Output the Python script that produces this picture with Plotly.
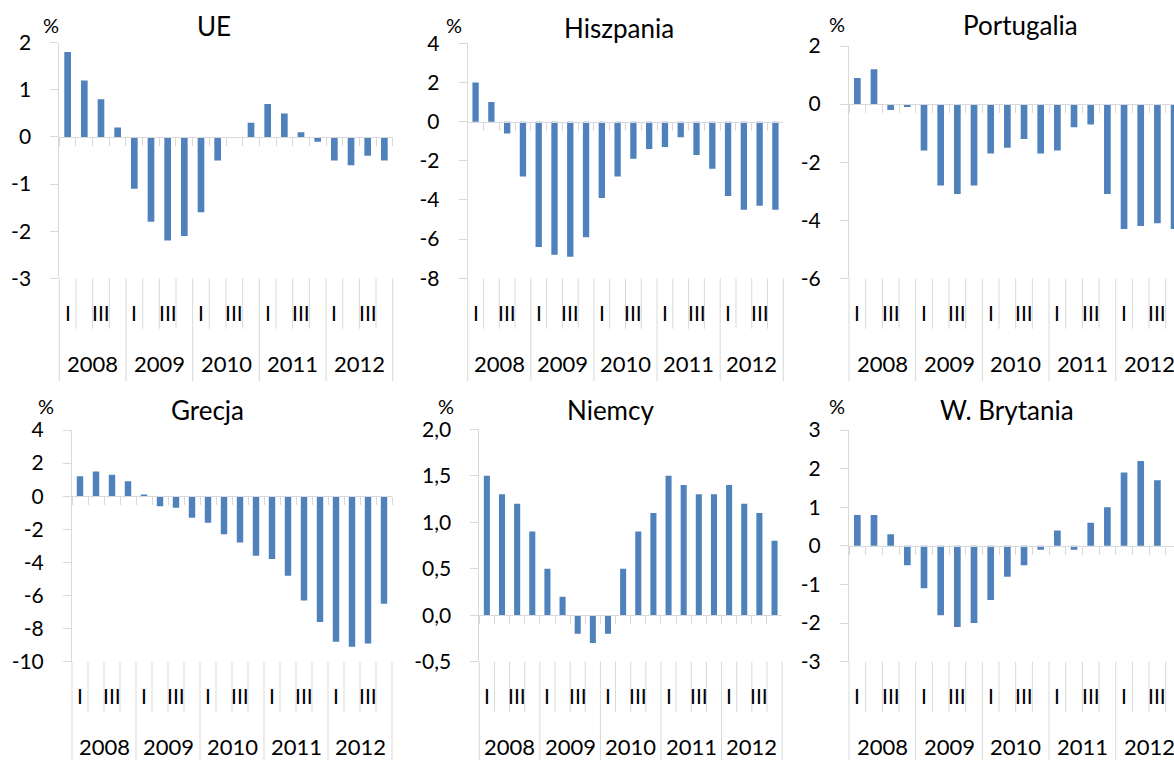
import plotly.graph_objects as go

# ---------------- data ----------------
years = ["2008", "2009", "2010", "2011", "2012"]
quarters = ["I", "II", "III", "IV"]
quarter_label_step = 2          # Excel skips every second quarter label
categories = [f"{y} {q}" for y in years for q in quarters]

ue = [1.8, 1.2, 0.8, 0.2, -1.1, -1.8, -2.2, -2.1, -1.6, -0.5,
      0.0, 0.3, 0.7, 0.5, 0.1, -0.1, -0.5, -0.6, -0.4, -0.5]
hiszpania = [2.0, 1.0, -0.6, -2.8, -6.4, -6.8, -6.9, -5.9, -3.9, -2.8,
             -1.9, -1.4, -1.3, -0.8, -1.7, -2.4, -3.8, -4.5, -4.3, -4.5]
portugalia = [0.9, 1.2, -0.2, -0.1, -1.6, -2.8, -3.1, -2.8, -1.7, -1.5,
              -1.2, -1.7, -1.6, -0.8, -0.7, -3.1, -4.3, -4.2, -4.1, -4.3]
grecja = [1.2, 1.5, 1.3, 0.9, 0.1, -0.6, -0.7, -1.3, -1.6, -2.3,
          -2.8, -3.6, -3.8, -4.8, -6.3, -7.6, -8.8, -9.1, -8.9, -6.5]
niemcy = [1.5, 1.3, 1.2, 0.9, 0.5, 0.2, -0.2, -0.3, -0.2, 0.5,
          0.9, 1.1, 1.5, 1.4, 1.3, 1.3, 1.4, 1.2, 1.1, 0.8]
w_brytania = [0.8, 0.8, 0.3, -0.5, -1.1, -1.8, -2.1, -2.0, -1.4, -0.8,
              -0.5, -0.1, 0.4, -0.1, 0.6, 1.0, 1.9, 2.2, 1.7, None]

titles = ["UE", "Hiszpania", "Portugalia", "Grecja", "Niemcy", "W. Brytania"]
series = [ue, hiszpania, portugalia, grecja, niemcy, w_brytania]
y_ticks = [
    [2, 1, 0, -1, -2, -3],
    [4, 2, 0, -2, -4, -6, -8],
    [2, 0, -2, -4, -6],
    [4, 2, 0, -2, -4, -6, -8, -10],
    [2.0, 1.5, 1.0, 0.5, 0.0, -0.5],
    [3, 2, 1, 0, -1, -2, -3],
]
decimal_ticks = [False, False, False, False, True, False]
unit = "%"

# ---------------- layout (pixels) ----------------
W, H = 1174, 760
FONT = "Lato"
BAR = "#4F81BD"
AX = "#D9D9D9"

# left px, px per quarter, top px, bottom px, title centre, % centre, label-area bottom
panel_geom = [
    (59.3, 16.67, 42.7, 278.3, (214, 26), (51, 25), 381),
    (467.7, 15.78, 43.3, 278.3, (619, 28), (454, 25), 381),
    (849.0, 16.67, 46.0, 278.3, (1020, 25), (837, 24), 381),
    (72.0, 16.0, 430.0, 661.7, (207, 410), (46, 406), 760),
    (479.3, 15.14, 429.3, 661.7, (610, 410), (446, 406), 760),
    (849.0, 16.67, 430.0, 661.7, (1007, 410), (837, 406), 760),
]


def pxx(x):
    return x / W


def pxy(y):
    return 1 - y / H


def fmt(v, dec):
    if dec:
        return f"{v:.1f}".replace(".", ",")
    return f"{v:g}"


fig = go.Figure()
shapes = []
annotations = []
layout_axes = {}

for i, (vals, title, ticks, dec, geom) in enumerate(
        zip(series, titles, y_ticks, decimal_ticks, panel_geom), start=1):
    left, cat, top, bottom, tpos, ppos, lab_bottom = geom
    sfx = "" if i == 1 else str(i)
    xref, yref = "x" + sfx, "y" + sfx
    right = min(left + cat * len(categories), W)
    xend = -0.5 + (right - left) / cat
    ymin, ymax = min(ticks), max(ticks)
    zero_px = top + (ymax - 0) / (ymax - ymin) * (bottom - top)

    fig.add_trace(go.Bar(
        x=categories, y=vals, xaxis=xref, yaxis=yref,
        marker=dict(color=BAR, line=dict(width=0)),
        showlegend=False, hoverinfo="skip",
    ))

    layout_axes["xaxis" + sfx] = dict(
        type="category", categoryorder="array", categoryarray=categories,
        domain=[pxx(left), pxx(right)], range=[-0.5, xend],
        anchor="free", position=pxy(zero_px), automargin=False,
        showline=True, linecolor=AX, linewidth=1,
        ticks="outside", tickson="boundaries", ticklen=8,
        tickcolor=AX, tickwidth=1, showticklabels=False,
        showgrid=False, zeroline=False, fixedrange=True,
    )
    layout_axes["yaxis" + sfx] = dict(
        domain=[pxy(bottom), pxy(top)], range=[ymin, ymax], anchor=xref,
        automargin=False,
        tickmode="array", tickvals=ticks, ticktext=[fmt(v, dec) for v in ticks],
        ticks="outside", ticklen=8, tickcolor=AX, tickwidth=1,
        showline=True, linecolor=AX, linewidth=1,
        showgrid=False, zeroline=False, fixedrange=True,
        tickfont=dict(family=FONT, size=21, color="black"),
        ticklabelstandoff=15,
    )

    # category-axis label area: quarter separators and year dividers
    n = len(categories)
    for b in range(n + 1):
        pos = b - 0.5
        if pos > xend + 1e-6:
            continue
        is_year = (b % len(quarters) == 0)
        y_end = lab_bottom if is_year else bottom + 50.5
        if b == 0 or b == n:
            sx, sref = (0 if b == 0 else 1), xref + " domain"
        else:
            sx, sref = pos, xref
        shapes.append(dict(
            type="line", xref=sref, yref="paper",
            x0=sx, x1=sx, y0=pxy(bottom), y1=pxy(y_end),
            line=dict(color=AX, width=1), layer="below",
        ))

    # quarter and year labels
    for k, yr in enumerate(years):
        for j in range(0, len(quarters), quarter_label_step):
            annotations.append(dict(
                xref=xref, yref="paper", x=k * len(quarters) + j,
                y=pxy(bottom + 34), text=quarters[j], showarrow=False,
                xanchor="center", yanchor="middle",
                font=dict(family=FONT, size=21, color="black"),
            ))
        annotations.append(dict(
            xref=xref, yref="paper", x=k * len(quarters) + (len(quarters) - 1) / 2,
            y=pxy(bottom + 85), text=yr, showarrow=False,
            xanchor="center", yanchor="middle",
            font=dict(family=FONT, size=22, color="black"),
        ))

    # title and unit
    annotations.append(dict(
        xref="paper", yref="paper", x=pxx(tpos[0]), y=pxy(tpos[1]),
        text=title, showarrow=False, xanchor="center", yanchor="middle",
        font=dict(family=FONT, size=26, color="black"),
    ))
    annotations.append(dict(
        xref="paper", yref="paper", x=pxx(ppos[0]), y=pxy(ppos[1]),
        text=unit, showarrow=False, xanchor="center", yanchor="middle",
        font=dict(family=FONT, size=20, color="black"),
    ))

fig.update_layout(
    template="none",
    width=W, height=H, autosize=False,
    margin=dict(l=0, r=0, t=0, b=0, pad=0),
    paper_bgcolor="white", plot_bgcolor="white",
    bargap=0.6, showlegend=False,
    font=dict(family=FONT, color="black"),
    shapes=shapes, annotations=annotations,
    **layout_axes,
)

fig.write_html(
    "out.html",
    config={"displayModeBar": False},
    post_script="document.body.style.margin='0px';document.body.style.overflow='hidden';",
)
